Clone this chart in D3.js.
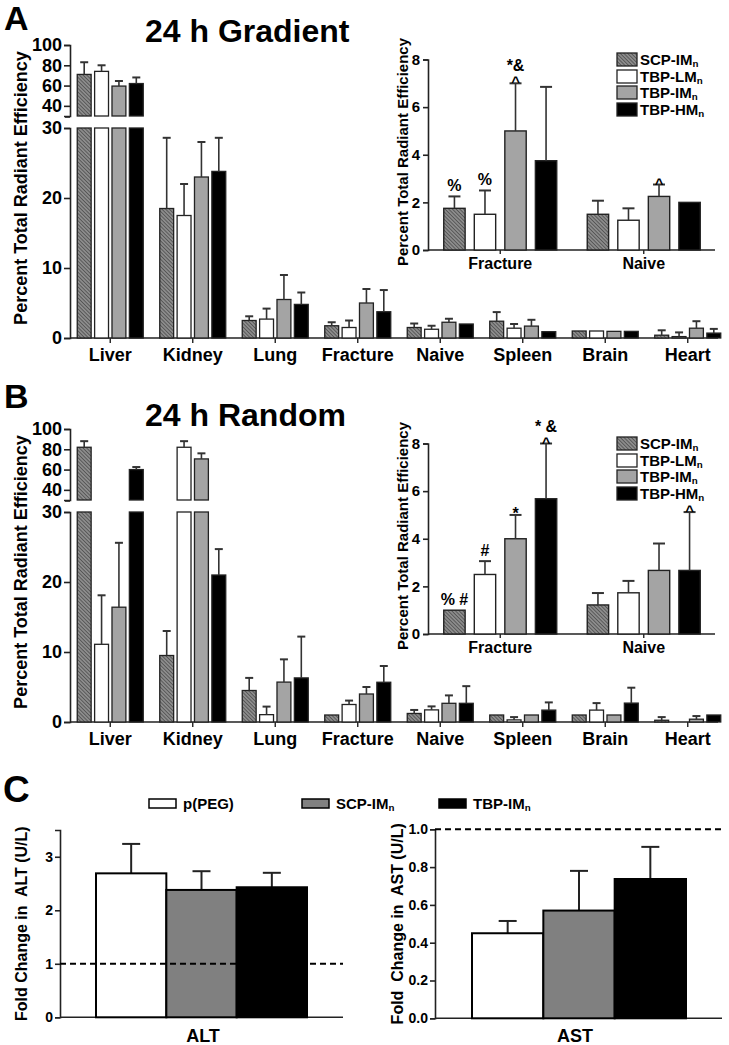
<!DOCTYPE html>
<html><head><meta charset="utf-8">
<script src="https://cdn.jsdelivr.net/npm/d3@7"></script>
<style>
body{margin:0;background:#fff;}
svg text{font-family:"Liberation Sans",Arial,sans-serif;font-weight:bold;fill:#000;}
</style></head><body>
<svg id="chart" width="729" height="1045"></svg>
<script>
// ---------- DATA ----------
const organs = ["Liver","Kidney","Lung","Fracture","Naive","Spleen","Brain","Heart"];
const seriesNames = ["SCP-IM","TBP-LM","TBP-IM","TBP-HM"];
const insetOrgans = ["Fracture","Naive"];
const lowTicks = [0,10,20,30];
const highTicks = [40,60,80,100];
const insetTicks = [0,2,4,6,8];

// 24 h Gradient
const gradientSCP    = [71, 18.5, 2.5, 1.75, 1.5, 2.4, 1.0, 0.4];
const gradientSCPErr = [12, 10.1, 0.6, 0.5, 0.57, 1.3, 0, 0.7];
const gradientLM     = [74, 17.5, 2.7, 1.5, 1.25, 1.4, 1.0, 0.2];
const gradientLMErr  = [6, 4.5, 1.5, 1.0, 0.5, 0.6, 0, 0.6];
const gradientIM     = [59.5, 23, 5.5, 5.0, 2.25, 1.7, 0.95, 1.4];
const gradientIMErr  = [5, 5, 3.5, 2.0, 0.5, 0.9, 0, 1.0];
const gradientHM     = [62, 23.8, 4.8, 3.75, 2.0, 0.9, 0.95, 0.7];
const gradientHMErr  = [6, 4.8, 1.7, 3.1, 0, 0, 0, 0.6];
const gradientAnnotations = [[3,0,["%"]],[3,1,["%"]],[3,2,["*&","^"]],[4,2,["^"]]];

// 24 h Random
const randomSCP    = [82, 9.5, 4.5, 1.0, 1.22, 1.0, 1.0, 0.25];
const randomSCPErr = [6, 3.5, 1.8, 0, 0.5, 0, 0, 0.45];
const randomLM     = [11.1, 82, 1.05, 2.5, 1.73, 0.3, 1.7, 0.0];
const randomLMErr  = [7, 6, 1.15, 0.56, 0.5, 0.4, 1.0, 0];
const randomIM     = [16.4, 70.5, 5.7, 4.0, 2.67, 1.0, 1.0, 0.4];
const randomIMErr  = [9.2, 5.5, 3.25, 1.0, 1.13, 0, 0, 0.45];
const randomHM     = [60, 21, 6.3, 5.68, 2.67, 1.7, 2.7, 1.0];
const randomHMErr  = [2.5, 3.7, 5.9, 2.32, 2.45, 1.1, 2.2, 0];
const randomAnnotations = [[3,0,["% #"]],[3,1,["#"]],[3,2,["*"]],[3,3,["* &","^"]],[4,3,["^"]]];

// Panel C
const cGroups = ["p(PEG)","SCP-IM","TBP-IM"];
const cSubscript = ["","n","n"];
const altMeans = [2.69, 2.38, 2.43];
const altErrs  = [0.55, 0.35, 0.27];
const astMeans = [0.45, 0.57, 0.737];
const astErrs  = [0.065, 0.21, 0.17];
const altTicks = [0,1,2,3];
const astTicks = [0,0.2,0.4,0.6,0.8,1.0];

// ---------- DRAWING ----------
const svg = d3.select("#chart");
const defs = svg.append("defs");
const pat = defs.append("pattern").attr("id","hatch").attr("patternUnits","userSpaceOnUse")
  .attr("width",2.6).attr("height",2.6).attr("patternTransform","rotate(-45)");
pat.append("rect").attr("width",2.6).attr("height",2.6).attr("fill","#8c8c8c");
pat.append("line").attr("x1",0).attr("y1",0).attr("x2",0).attr("y2",2.6).attr("stroke","#3a3a3a").attr("stroke-width",1.2);

const fills = ["url(#hatch)","#ffffff","#a4a4a4","#000000"];
const axisColor = "#222";

function styleAxis(sel, fs){
  sel.select(".domain").attr("stroke",axisColor).attr("stroke-width",1.6);
  sel.selectAll(".tick line").attr("stroke",axisColor).attr("stroke-width",1.6);
  sel.selectAll(".tick text").attr("font-size",fs).attr("fill","#000")
     .style("font-family","'Liberation Sans',Arial,sans-serif").style("font-weight","bold");
}

function subText(sel, main, sub){
  sel.append("tspan").text(main);
  if(sub) sel.append("tspan").text(sub).attr("font-size","65%").attr("dy",2);
}

function drawPanel(dy, means, errs, letter, letterY, title, annots){
  const g = svg.append("g").attr("transform",`translate(0,${dy})`);
  g.append("text").attr("x",4).attr("y",letterY).attr("font-size",34).text(letter);
  g.append("text").attr("x",145).attr("y",42).attr("font-size",32).text(title);

  // main chart scales
  const x0 = d3.scaleBand().domain(organs).range([69,729]);
  const groupW = 66;
  const x1 = d3.scaleBand().domain(seriesNames).range([0,groupW]).paddingInner(0.2);
  const yLow = d3.scaleLinear().domain([0,30]).range([338,128]);
  const yHigh = d3.scaleLinear().domain([30,100]).range([116,45]);
  const yMain = v => v > 30 ? yHigh(v) : yLow(v);
  const bx = (o,s) => x0(o) + (x0.bandwidth()-groupW)/2 + x1(s);

  // axes
  const axL = g.append("g").attr("transform","translate(70,0)")
    .call(d3.axisLeft(yLow).tickValues(lowTicks).tickSizeOuter(0).tickSize(6).tickPadding(2));
  styleAxis(axL,18);
  const axH = g.append("g").attr("transform","translate(70,0)")
    .call(d3.axisLeft(yHigh).tickValues(highTicks).tickSizeOuter(0).tickSize(6).tickPadding(2));
  styleAxis(axH,18);
  g.append("line").attr("x1",70).attr("x2",70).attr("y1",yHigh(30)).attr("y2",yHigh(30)+1).attr("stroke",axisColor).attr("stroke-width",1.6);
  g.append("line").attr("x1",65).attr("x2",70).attr("y1",yHigh(30)+1).attr("y2",yHigh(30)+1).attr("stroke",axisColor).attr("stroke-width",1.6);
  g.append("line").attr("x1",70).attr("x2",718).attr("y1",yLow(0)).attr("y2",yLow(0)).attr("stroke",axisColor).attr("stroke-width",1.6);
  organs.forEach(o=>{
    const cx = x0(o)+x0.bandwidth()/2;
    g.append("line").attr("x1",cx).attr("x2",cx).attr("y1",yLow(0)).attr("y2",yLow(0)+5).attr("stroke",axisColor).attr("stroke-width",1.4);
    g.append("text").attr("x",cx).attr("y",361).attr("text-anchor","middle").attr("font-size",18).text(o);
  });
  g.append("text").attr("transform",`translate(27,188) rotate(-90)`).attr("text-anchor","middle").attr("font-size",18).text("Percent Total Radiant Efficiency");

  // bars
  seriesNames.forEach((s,si)=>{
    organs.forEach((o,oi)=>{
      const v = means[si][oi], e = errs[si][oi];
      const x = bx(o,s), w = x1.bandwidth();
      const lowTop = yLow(Math.min(v,30));
      if(v>0) g.append("rect").attr("x",x).attr("y",lowTop).attr("width",w).attr("height",yLow(0)-lowTop)
        .attr("fill",fills[si]).attr("stroke","#222").attr("stroke-width",1.3);
      if(v>30) g.append("rect").attr("x",x).attr("y",yHigh(v)).attr("width",w).attr("height",yHigh(30)-yHigh(v))
        .attr("fill",fills[si]).attr("stroke","#222").attr("stroke-width",1.3);
      if(e>0){
        const cx = x+w/2, t = yMain(v+e);
        g.append("line").attr("x1",cx).attr("x2",cx).attr("y1",yMain(v)).attr("y2",t).attr("stroke","#333").attr("stroke-width",1.6);
        g.append("line").attr("x1",cx-4).attr("x2",cx+4).attr("y1",t).attr("y2",t).attr("stroke","#333").attr("stroke-width",2);
      }
    });
  });

  // inset
  const xi = d3.scaleBand().domain(insetOrgans).range([428.5,715.5]);
  const giW = 113;
  const xi1 = d3.scaleBand().domain(seriesNames).range([0,giW]).paddingInner(0.3);
  const yIn = d3.scaleLinear().domain([0,8]).range([250,59.5]);
  const axI = g.append("g").attr("transform","translate(428,0)")
    .call(d3.axisLeft(yIn).tickValues(insetTicks).tickSizeOuter(0).tickSize(5).tickPadding(3));
  styleAxis(axI,15);
  g.append("line").attr("x1",428).attr("x2",715).attr("y1",yIn(0)).attr("y2",yIn(0)).attr("stroke",axisColor).attr("stroke-width",1.6);
  insetOrgans.forEach(o=>{
    const cx = xi(o)+xi.bandwidth()/2;
    g.append("line").attr("x1",cx).attr("x2",cx).attr("y1",yIn(0)).attr("y2",yIn(0)+4).attr("stroke",axisColor).attr("stroke-width",1.4);
    g.append("text").attr("x",cx).attr("y",269).attr("text-anchor","middle").attr("font-size",16).text(o);
  });
  g.append("text").attr("transform",`translate(408,152) rotate(-90)`).attr("text-anchor","middle").attr("font-size",15).text("Percent Total Radiant Efficiency");
  const ibx = (o,s) => xi(o) + (xi.bandwidth()-giW)/2 + xi1(s);
  seriesNames.forEach((s,si)=>{
    insetOrgans.forEach(o=>{
      const oi = organs.indexOf(o);
      const v = means[si][oi], e = errs[si][oi];
      const x = ibx(o,s), w = xi1.bandwidth();
      g.append("rect").attr("x",x).attr("y",yIn(v)).attr("width",w).attr("height",yIn(0)-yIn(v))
        .attr("fill",fills[si]).attr("stroke","#222").attr("stroke-width",1.4);
      if(e>0){
        const cx = x+w/2, t = yIn(v+e);
        g.append("line").attr("x1",cx).attr("x2",cx).attr("y1",yIn(v)).attr("y2",t).attr("stroke","#333").attr("stroke-width",1.6);
        g.append("line").attr("x1",cx-6).attr("x2",cx+6).attr("y1",t).attr("y2",t).attr("stroke","#333").attr("stroke-width",2);
      }
    });
  });
  // annotations
  annots.forEach(([oi,si,lines])=>{
    const o = organs[oi], s = seriesNames[si];
    const cx = ibx(o,s) + xi1.bandwidth()/2;
    const top = yIn(means[si][oi] + errs[si][oi]);
    let base = null;
    for(let k=lines.length-1;k>=0;k--){
      const L = lines[k];
      if(base===null) base = (L==="^"||L==="*") ? top+4 : top-5;
      else base -= 16;
      g.append("text").attr("x",cx).attr("y",base).attr("text-anchor","middle").attr("font-size",L==="^"?15:16).text(L);
    }
  });
  // legend
  const legY = [53,70,86,103];
  seriesNames.forEach((s,si)=>{
    g.append("rect").attr("x",617).attr("y",legY[si]).attr("width",20).attr("height",13)
      .attr("fill",fills[si]).attr("stroke","#222").attr("stroke-width",1.3);
    const t = g.append("text").attr("x",640).attr("y",legY[si]+12).attr("font-size",15);
    subText(t,s,"n");
  });
}

drawPanel(0, [gradientSCP,gradientLM,gradientIM,gradientHM],
  [gradientSCPErr,gradientLMErr,gradientIMErr,gradientHMErr], "A", 30, "24 h Gradient", gradientAnnotations);
drawPanel(384, [randomSCP,randomLM,randomIM,randomHM],
  [randomSCPErr,randomLMErr,randomIMErr,randomHMErr], "B", 24, "24 h Random", randomAnnotations);

// ---------- PANEL C ----------
const cFills = ["#ffffff","#808080","#000000"];
svg.append("text").attr("x",3).attr("y",802).attr("font-size",37).text("C");
const cLegX = [149,302,439];
cGroups.forEach((n,i)=>{
  svg.append("rect").attr("x",cLegX[i]).attr("y",799).attr("width",27).attr("height",9)
    .attr("fill",cFills[i]).attr("stroke","#000").attr("stroke-width",1.5);
  const t = svg.append("text").attr("x",cLegX[i]+34).attr("y",809).attr("font-size",15);
  subText(t,n,cSubscript[i]);
});

function drawC(axX, axEnd, barRange, yRange, domainMax, ticks, fmt, means, errs, refVal, label, labelX, yLabel, yLabelX){
  const x = d3.scaleBand().domain(cGroups).range(barRange);
  const y = d3.scaleLinear().domain([0,domainMax]).range(yRange);
  const ax = svg.append("g").attr("transform",`translate(${axX},0)`)
    .call(d3.axisLeft(y).tickValues(ticks).tickFormat(fmt).tickSizeOuter(0).tickSize(5).tickPadding(2));
  styleAxis(ax,14);
  svg.append("line").attr("x1",axX).attr("x2",axEnd).attr("y1",y(0)).attr("y2",y(0)).attr("stroke",axisColor).attr("stroke-width",1.6);
  cGroups.forEach((gname,i)=>{
    const bx = x(gname), w = x.bandwidth(), v = means[i], e = errs[i];
    const cx = bx + w/2, t = y(v+e);
    svg.append("line").attr("x1",cx).attr("x2",cx).attr("y1",y(v)).attr("y2",t).attr("stroke","#222").attr("stroke-width",2);
    svg.append("line").attr("x1",cx-9).attr("x2",cx+9).attr("y1",t).attr("y2",t).attr("stroke","#222").attr("stroke-width",2);
    svg.append("rect").attr("x",bx).attr("y",y(v)).attr("width",w).attr("height",y(0)-y(v))
      .attr("fill",cFills[i]).attr("stroke","#000").attr("stroke-width",2);
  });
  svg.append("line").attr("x1",axX).attr("x2",axEnd).attr("y1",y(refVal)).attr("y2",y(refVal))
    .attr("stroke","#000").attr("stroke-width",2).attr("stroke-dasharray","6,4");
  svg.append("text").attr("x",labelX).attr("y",1042).attr("text-anchor","middle").attr("font-size",18).text(label);
  svg.append("text").attr("transform",`translate(${yLabelX},${(yRange[0]+yRange[1])/2}) rotate(-90)`)
    .attr("text-anchor","middle").attr("font-size",16).style("white-space","pre").text(yLabel);
}
drawC(60, 343, [96,307], [1017.3,830], 3.5, altTicks, d3.format("d"), altMeans, altErrs, 1, "ALT", 203, "Fold Change in  ALT (U/L)", 27);
drawC(435, 722, [472,686], [1018.3,829.3], 1.0, astTicks, d3.format(".1f"), astMeans, astErrs, 1.0, "AST", 575, "Fold  Change in  AST (U/L)", 403);
</script>
</body></html>
